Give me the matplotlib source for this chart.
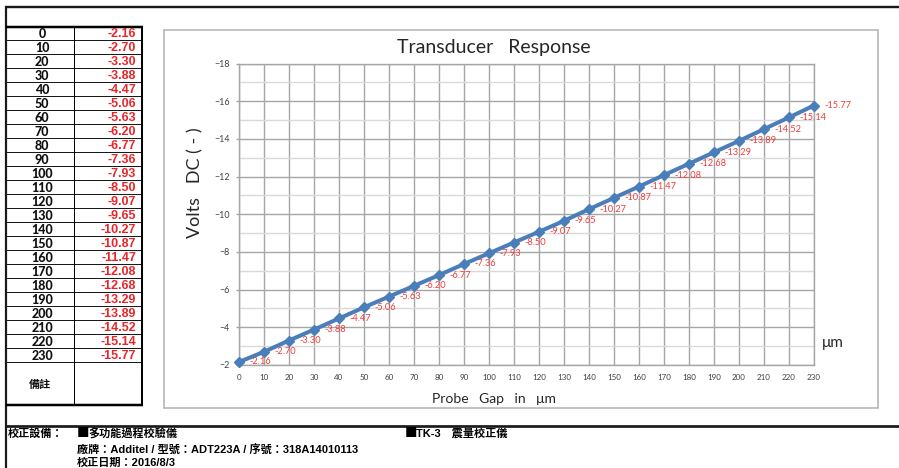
import matplotlib.pyplot as plt
from matplotlib.patches import Rectangle
from matplotlib.ticker import MultipleLocator

# calibration data: probe gap (um) vs output voltage (V DC)
gap_um = [0, 10, 20, 30, 40, 50, 60, 70, 80, 90, 100, 110,
          120, 130, 140, 150, 160, 170, 180, 190, 200, 210, 220, 230]
volts_dc = [-2.16, -2.70, -3.30, -3.88, -4.47, -5.06, -5.63, -6.20,
            -6.77, -7.36, -7.93, -8.50, -9.07, -9.65, -10.27, -10.87,
            -11.47, -12.08, -12.68, -13.29, -13.89, -14.52, -15.14, -15.77]

equip_lines = [
    '廠牌：Additel / 型號：ADT223A / 序號：318A14010113',
    '校正日期：2016/8/3',
]

W, H = 899, 468
CJK = ['Liberation Sans', 'Noto Sans CJK TC']
LINE_BLUE = '#4a7ebb'
LABEL_RED = '#f23c3c'
TABLE_RED = '#e8262a'
GRID = '#a6a6a6'

fig = plt.figure(figsize=(W / 100, H / 100), dpi=100)

# page layer in pixel coordinates (document frame, table, footer)
page = fig.add_axes([0, 0, 1, 1])
page.set_xlim(0, W)
page.set_ylim(H, 0)
page.axis('off')

px = 0.72  # points per pixel
page.plot([6.3, 6.3], [6, H], color='#1a1a1a', lw=2.2 * px, solid_capstyle='butt')
page.plot([5, W], [7, 7], color='#1a1a1a', lw=2.4 * px, solid_capstyle='butt')
page.plot([5, W], [425.7, 425.7], color='#1a1a1a', lw=2.7 * px, solid_capstyle='butt')

# table
row_top, row_h = 26.5, 13.99
tab_bottom = 405.3
for i in range(1, len(gap_um) + 1):
    y = row_top + i * row_h
    page.plot([7, 142.3], [y, y], color='black', lw=0.9 * px)
page.plot([74, 74], [row_top, tab_bottom], color='black', lw=1.0 * px)
page.plot([6, 143.3], [row_top, row_top], color='black', lw=2.5 * px, solid_capstyle='butt')
page.plot([6, 143.3], [tab_bottom, tab_bottom], color='black', lw=2.5 * px, solid_capstyle='butt')
page.plot([142.3, 142.3], [row_top, tab_bottom], color='black', lw=2.0 * px)

for i, (g, v) in enumerate(zip(gap_um, volts_dc)):
    yc = row_top + (i + 0.5) * row_h
    page.text(42, yc + 0.3, f'{g}', ha='center', va='center', fontsize=9,
              fontweight='black', family='Lato', color='#111111')
    page.text(136, yc + 0.3, f'{v:.2f}', ha='right', va='center', fontsize=9,
              fontweight='bold', family='Liberation Sans', color=TABLE_RED)

page.text(40, 385, '備註', ha='center', va='center', fontsize=8,
          fontweight='bold', family=CJK, color='#111111')

# chart frame
page.add_patch(Rectangle((163.5, 29.5), 878.3 - 163.5, 407.5 - 29.5,
                         fill=False, edgecolor='#b3b3b3', lw=1.6 * px))

# footer
page.text(8, 433.5, '校正設備：', ha='left', va='center', fontsize=8,
          fontweight='bold', family=CJK, color='black')
page.text(77, 433.5, '■', ha='left', va='center', fontsize=9,
          family='Noto Sans CJK TC', color='black')
page.text(88, 433.5, '多功能過程校驗儀', ha='left', va='center', fontsize=8,
          fontweight='bold', family=CJK, color='black')
page.text(405, 433.5, '■', ha='left', va='center', fontsize=9,
          family='Noto Sans CJK TC', color='black')
page.text(416, 433.5, 'TK-3　震量校正儀', ha='left', va='center', fontsize=8,
          fontweight='bold', family=CJK, color='black')
for k, line in enumerate(equip_lines):
    page.text(77, 449.5 + k * 13, line, ha='left', va='center', fontsize=8,
              fontweight='bold', family=CJK, color='black')

# chart
x0, x1 = 239, 814
y_top, y_bot = 63.5, 365
ax = fig.add_axes([x0 / W, (H - y_bot) / H, (x1 - x0) / W, (y_bot - y_top) / H])
ax.set_facecolor('white')

ax.plot(gap_um, volts_dc, color=LINE_BLUE, lw=2.9, marker='D', markersize=5,
        zorder=3, clip_on=False)
for g, v in zip(gap_um, volts_dc):
    ax.annotate(f'{v:.2f}', (g, v), xytext=(7.5, 0), textcoords='offset points',
                ha='left', va='center', fontsize=6.7, family='Lato',
                color=LABEL_RED, annotation_clip=False)

ax.set_xlim(0, 230)
ax.set_ylim(-2, -18)
ax.set_xticks(gap_um)
ax.yaxis.set_major_locator(MultipleLocator(2))
ax.yaxis.set_minor_locator(MultipleLocator(1))
ax.grid(which='major', color=GRID, lw=1.4 * px)
ax.grid(which='minor', axis='y', color='#d9d9d9', lw=1.4 * px)
ax.set_axisbelow(True)
for s in ax.spines.values():
    s.set_color(GRID)
    s.set_linewidth(1.4 * px)

ax.tick_params(axis='y', which='major', length=2.2, width=1.0, color=GRID,
               pad=4.5, labelsize=6.4, labelcolor='#404040')
ax.tick_params(axis='x', which='major', length=0, pad=6.5,
               labelsize=5.8, labelcolor='#404040')
ax.tick_params(which='minor', length=0)
for lab in ax.get_xticklabels() + ax.get_yticklabels():
    lab.set_family('Lato')

ax.text(0.4435, 1.0547, 'Transducer   Response', transform=ax.transAxes,
        ha='center', va='center', fontsize=14, family='Lato', color='#262626')
ax.set_ylabel('Volts   DC ( - )', fontsize=13, family='Lato', color='#262626',
              va='center')
ax.yaxis.set_label_coords(-0.0765, 0.604)
ax.set_xlabel('Probe   Gap   in   μm', fontsize=10, family='Lato',
              color='#262626', va='center')
ax.xaxis.set_label_coords(0.4435, -0.113)
ax.text(1.033, 0.073, 'μm', transform=ax.transAxes, ha='center', va='center',
        fontsize=11, family='Lato', color='#262626')

fig.savefig('out.png', dpi=100)
